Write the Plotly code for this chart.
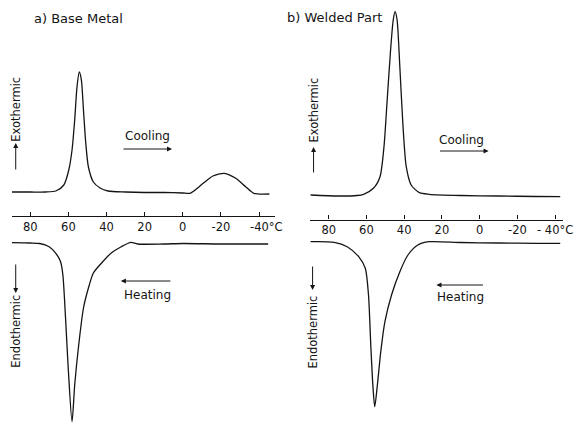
import plotly.graph_objects as go

# ---------------- data ----------------
# Panel a) Base Metal
a_cool_T = [89.7, 80, 72, 66.6, 62.4, 59.8, 58.1, 56.7, 55.5, 54.3, 53.2, 52.1, 50.9, 49.5,
            46.9, 43.4, 39.2, 30, 20, 10, 0, -3.8, -10.7, -15.8, -21.8, -27.8, -33, -37.3, -45.4]
a_cool = [2.4, 2.4, 2.4, 2.5, 3.1, 4.6, 6.6, 9.6, 12.9, 14.4, 13.6, 10.6, 7.3, 4.9,
          3.4, 2.8, 2.5, 2.4, 2.35, 2.35, 2.3, 2.27, 3.27, 4.0, 4.27, 3.77, 2.93, 2.27, 2.2]

a_heat_T = [89.7, 80, 75, 70.1, 66.6, 64.1, 62.9, 61.5, 60.1, 58.1, 56.7, 54.6, 52.1, 49.5,
            46.9, 42.6, 37.5, 32.3, 27.2, 23.7, 10, 0, -20, -44.8]
a_heat = [-2.67, -2.7, -2.75, -3.07, -3.73, -4.57, -5.9, -10.2, -15.2, -20.57, -16.9, -12.9, -9.2, -7.2,
          -5.7, -4.7, -3.7, -3.07, -2.63, -2.8, -2.8, -2.75, -2.8, -2.8]

# Panel b) Welded Part
b_cool_T = [89.6, 75, 65, 61.5, 56.3, 52.8, 50.7, 49, 47.2, 45.8, 44.8, 43.75, 42.3, 40.6,
            38.9, 36.3, 31.9, 26.7, 10, -10, -30, -42.7]
b_cool = [2.4, 2.3, 2.35, 2.47, 3.07, 4.23, 7.23, 11.9, 16.9, 19.9, 20.73, 19.9, 15.23, 9.23,
          5.23, 3.4, 2.63, 2.47, 2.35, 2.3, 2.25, 2.23]

b_heat_T = [89.6, 77.1, 70.2, 64.1, 60.6, 58.9, 57.7, 56.6, 55.6, 54.2, 52.4, 50.2, 46.7, 42.3,
            38, 32.8, 26.7, 10, -10, -30, -42.7]
b_heat = [-2.27, -2.33, -2.77, -3.77, -4.93, -7.6, -12.6, -16.6, -18.77, -16.6, -13.27, -10.27, -7.6, -5.27,
          -3.6, -2.6, -2.27, -2.35, -2.4, -2.43, -2.43]

tick_vals = [80, 60, 40, 20, 0, -20, -40]
tick_text_a = ["80", "60", "40", "20", "0", "-20", "\u00a0\u00a0\u00a0\u00a0-40°C"]
tick_text_b = ["80", "60", "40", "20", "0", "-20", "- 40°C"]

# ---------------- figure ----------------
W, H = 587, 424
FONT = "DejaVu Sans"
INK = "#141414"

def px(x):
    return x / W

def py(y):
    return 1 - y / H

fig = go.Figure()
line = dict(color=INK, width=1.3, shape="spline", smoothing=0.7)
for T, v, xa, ya in [(a_cool_T, a_cool, "x", "y"), (a_heat_T, a_heat, "x", "y"),
                     (b_cool_T, b_cool, "x2", "y2"), (b_heat_T, b_heat, "x2", "y2")]:
    fig.add_trace(go.Scatter(x=T, y=v, mode="lines", line=line, xaxis=xa, yaxis=ya,
                             hoverinfo="skip"))

xcommon = dict(showline=True, linecolor=INK, linewidth=1.2, ticks="inside", ticklen=4,
               tickcolor=INK, tickwidth=1, tickmode="array", tickvals=tick_vals,
               showgrid=False, zeroline=False, anchor="free", side="bottom",
               tickfont=dict(family=FONT, size=11.5, color=INK))

fig.update_layout(
    width=W, height=H,
    margin=dict(l=0, r=0, t=0, b=0),
    paper_bgcolor="white", plot_bgcolor="white",
    showlegend=False,
    xaxis=dict(domain=[px(12), px(280)], range=[89.7, -48.5], ticktext=tick_text_a,
               position=py(216), **xcommon),
    xaxis2=dict(domain=[px(315), px(573)], range=[90.1, -44.3], ticktext=tick_text_b,
                position=py(219.5), **xcommon),
    yaxis=dict(domain=[0, 1], range=[-20.8, 21.6], visible=False, anchor="x"),
    yaxis2=dict(domain=[0, 1], range=[-20.5, 21.9], visible=False, anchor="x2"),
)

ann = []

def text(t, x, y, size=12, angle=0, xanchor="center"):
    ann.append(dict(text=t, x=px(x), y=py(y), xref="paper", yref="paper", showarrow=False,
                    textangle=angle, xanchor=xanchor, yanchor="middle",
                    font=dict(family=FONT, size=size, color=INK)))

def arrow(x_head, y_head, x_tail, y_tail):
    ann.append(dict(text="", x=px(x_head), y=py(y_head), xref="paper", yref="paper",
                    ax=x_tail - x_head, ay=y_tail - y_head, showarrow=True,
                    arrowhead=2, arrowsize=1, arrowwidth=1, arrowcolor=INK))

# titles
text("a) Base Metal", 33, 18, size=13, xanchor="left")
text("b) Welded Part", 290, 17, size=13, xanchor="left")

# vertical labels
text("Exothermic", 16, 109, size=11.5, angle=-90)
arrow(16, 143, 16, 171)
text("Endothermic", 16, 331, size=11.5, angle=-90)
arrow(16, 293, 16, 263)
text("Exothermic", 319, 110, size=11.5, angle=-90)
arrow(319, 147, 319, 174)
text("Endothermic", 318, 332, size=11.5, angle=-90)
arrow(318, 290, 318, 265)

# direction labels
text("Cooling", 150, 136, size=12)
arrow(175, 149, 125, 149)
text("Heating", 150, 295, size=12)
arrow(123, 281, 174, 281)
text("Cooling", 470, 140, size=12)
arrow(497, 151, 447, 151)
text("Heating", 468, 297, size=12)
arrow(444, 285, 492, 285)

fig.update_layout(annotations=ann)

fig.write_html("out.html", config={"displayModeBar": False},
               post_script="document.body.style.margin='0';document.body.style.overflow='hidden';")
